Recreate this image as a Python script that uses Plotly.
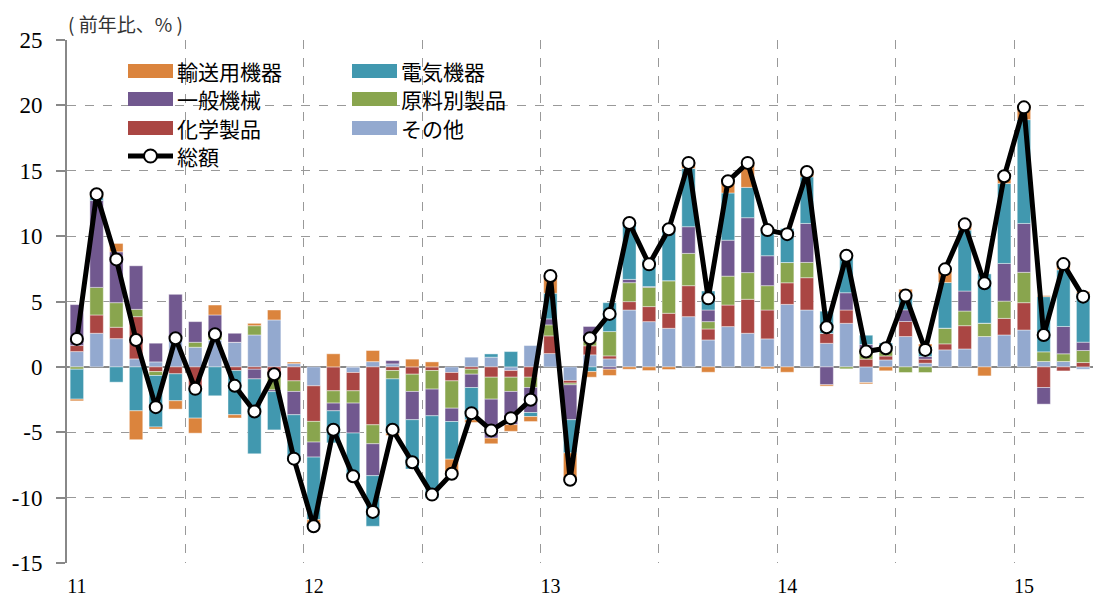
import plotly.graph_objects as go

# ---- data (前年比, %) Jan 2011 .. Apr 2015 ----
months = [f"{y}-{m:02d}" for y in range(2011, 2016) for m in range(1, 13)][:52]
year_ticks = [0, 12, 24, 36, 48]
year_labels = ["11", "12", "13", "14", "15"]

sonota = [1.17, 2.57, 2.16, 0.61, 0.38, 2.19, 1.50, 2.06, 1.88, 2.44, 3.59, 0.25,
          -1.45, 0.00, -0.43, 0.40, 0.23, 0.00, 0.00, -0.43, 0.74, 0.74, -0.28, 1.63,
          1.02, -1.04, 0.92, 0.61, 4.35, 3.46, 2.95, 3.84, 2.06, 3.08, 2.57, 2.14,
          4.78, 4.35, 1.80, 3.33, -1.20, 0.53, 2.32, 0.28, 1.30, 1.37, 2.32, 2.44,
          2.82, 0.41, 0.41, -0.18]
kagaku = [0.46, 1.40, 0.87, 3.23, -0.36, -0.53, -1.63, 0.00, -0.28, -0.18, -0.61, -1.07,
          -2.72, -1.83, -1.40, -4.43, -0.28, -0.56, -0.28, -0.64, -0.18, -0.79, -0.51, -0.79,
          1.35, -0.20, 0.69, 0.23, 0.64, 1.15, 1.15, 2.37, 0.84, 1.65, 2.60, 2.21,
          1.65, 2.47, 0.76, 1.02, 0.59, 0.30, 1.15, 0.31, 0.46, 1.78, 0.00, 1.27,
          2.09, -1.58, -0.31, 0.33]
genryo = [-0.18, 2.11, 1.88, 0.56, -0.30, 0.00, 0.38, 0.38, 0.00, 0.71, -1.15, -0.81,
          -1.58, -0.94, -0.94, -1.45, -0.64, -1.32, -1.42, -2.09, -0.38, -1.68, -1.09, -0.79,
          0.84, -0.13, 0.33, 1.86, 1.45, 1.48, 2.49, 2.47, 0.56, 2.21, 2.04, 1.86,
          1.55, 1.17, 0.00, -0.15, 0.76, 0.40, -0.43, -0.43, 1.20, 1.12, 1.02, 1.32,
          2.32, 0.74, 0.59, 0.92]
ippan = [3.13, 6.64, 3.89, 3.33, 1.43, 3.36, 1.58, 1.53, 0.69, -0.74, -0.13, -1.78,
         -1.15, -0.59, -2.29, -2.44, 0.25, -2.16, -2.04, -1.02, -1.02, -2.98, -2.54, -1.91,
         0.46, -2.67, 1.15, -0.18, 0.25, 0.05, 0.00, 2.04, 0.89, 2.75, 4.20, 2.29,
         0.00, 2.98, -1.37, 1.32, 0.36, 0.10, 0.89, 0.20, 0.00, 1.53, 0.00, 2.88,
         3.74, -1.27, 2.09, 0.64]
denki = [-2.29, 0.25, -1.17, -3.36, -3.94, -2.06, -2.29, -2.21, -3.38, -5.73, -2.93, -3.56,
         -4.78, -2.45, -3.31, -3.87, -4.15, -3.77, -6.30, -2.88, -2.47, 0.25, 1.17, -0.31,
         1.96, -2.54, -0.36, 2.21, 4.40, 2.09, 3.87, 4.45, 1.45, 3.61, 2.32, 1.96,
         2.60, 3.56, 1.70, 2.80, 0.71, 0.50, 1.27, 0.76, 3.49, 4.66, 3.77, 6.11,
         7.94, 4.22, 4.33, 3.74]
yuso = [-0.13, 0.20, 0.64, -2.21, -0.15, -0.64, -1.15, 0.76, -0.25, 0.18, 0.76, 0.12,
        -0.38, 1.00, 0.00, 0.85, -0.18, 0.59, 0.38, -1.12, -0.20, -0.43, -0.51, -0.38,
        1.27, -2.00, -0.43, -0.48, -0.18, -0.28, -0.20, 0.51, -0.41, 0.97, 1.88, -0.15,
        -0.41, 0.51, -0.10, 0.20, -0.10, -0.30, 0.31, 0.20, 0.90, 0.51, -0.69, 0.38,
        1.09, 0.08, 0.69, 0.13]
sogaku = [2.14, 13.2, 8.22, 2.06, -3.08, 2.19, -1.68, 2.49, -1.45, -3.41, -0.56, -7.02,
          -12.19, -4.81, -8.37, -11.09, -4.81, -7.30, -9.77, -8.17, -3.54, -4.86, -3.92, -2.52,
          6.95, -8.63, 2.19, 4.05, 11.0, 7.84, 10.53, 15.6, 5.24, 14.2, 15.6, 10.46,
          10.15, 14.91, 3.03, 8.5, 1.17, 1.42, 5.45, 1.3, 7.46, 10.9, 6.39, 14.58,
          19.85, 2.44, 7.86, 5.37]

series = [  # stacking order from zero outward
    ("その他", sonota, "#93A9CF"),
    ("化学製品", kagaku, "#AA4643"),
    ("原料別製品", genryo, "#89A54E"),
    ("一般機械", ippan, "#71588F"),
    ("電気機器", denki, "#4198AF"),
    ("輸送用機器", yuso, "#DB843D"),
]

x = list(range(len(months)))

fig = go.Figure()
for name, vals, col in series:
    fig.add_trace(go.Bar(x=x, y=vals, name=name, marker_color=col,
                         marker_line=dict(width=0.6, color="rgba(255,255,255,0.7)"),
                         showlegend=False))
fig.add_trace(go.Scatter(x=x, y=sogaku, name="総額", mode="lines+markers",
                         line=dict(color="black", width=5),
                         marker=dict(size=12, color="white", line=dict(color="black", width=2)),
                         showlegend=False))

# page has an 8px body margin, so figure coords = screen coords - 8
OFF = 8
FW, FH = 1103 - 2 * OFF, 605 - 2 * OFF
L, R, T, B = 67 - OFF, 1093 - OFF, 40 - OFF, 563 - OFF
W, H = R - L, B - T
def px(p):  # screen x -> paper
    return (p - OFF - L) / W
def py(p):  # screen y -> paper
    return (B - (p - OFF)) / H

jp = "Noto Sans CJK JP"
shapes = []
annotations = []
legend_items = [
    ("輸送用機器", "#DB843D", 128, 71), ("電気機器", "#4198AF", 352, 71),
    ("一般機械", "#71588F", 128, 99), ("原料別製品", "#89A54E", 352, 99),
    ("化学製品", "#AA4643", 128, 128), ("その他", "#93A9CF", 352, 128),
]
for name, col, x0, yc in legend_items:
    shapes.append(dict(type="rect", xref="paper", yref="paper",
                       x0=px(x0), x1=px(x0 + 45), y0=py(yc + 7), y1=py(yc - 7),
                       fillcolor=col, line=dict(width=0)))
    annotations.append(dict(text=name, xref="paper", yref="paper", x=px(x0 + 47), y=py(yc),
                            xanchor="left", yanchor="middle", showarrow=False,
                            font=dict(family=jp, size=21, color="black")))
# 総額 legend symbol
shapes.append(dict(type="line", xref="paper", yref="paper", x0=px(128), x1=px(173),
                   y0=py(156), y1=py(156), line=dict(color="black", width=5)))
shapes.append(dict(type="circle", xref="paper", yref="paper", x0=px(144), x1=px(157),
                   y0=py(162.5), y1=py(149.5), fillcolor="white",
                   line=dict(color="black", width=2)))
annotations.append(dict(text="総額", xref="paper", yref="paper", x=px(175), y=py(156),
                        xanchor="left", yanchor="middle", showarrow=False,
                        font=dict(family=jp, size=21, color="black")))
annotations.append(dict(text="( 前年比、% )", xref="paper", yref="paper", x=px(66), y=py(8),
                        xanchor="left", yanchor="top", showarrow=False,
                        font=dict(family=jp, size=19, color="#333")))

yticks = list(range(-15, 30, 5))
fig.update_layout(
    width=FW, height=FH,
    margin=dict(l=L, r=FW - R, t=T, b=FH - B, pad=0),
    barmode="relative", bargap=0.32,
    plot_bgcolor="white", paper_bgcolor="white",
    shapes=shapes, annotations=annotations,
    showlegend=False,
    xaxis=dict(range=[-0.5, 51.5], tickvals=year_ticks, ticktext=year_labels,
               showgrid=False, zeroline=False, ticks="", showline=False, automargin=False,
               tickfont=dict(family="Liberation Serif", size=20, color="black"),
               ticklabelstandoff=9,
               minor=dict(tickvals=[5.5 + 6 * k for k in range(8)], showgrid=True,
                          gridcolor="#999", griddash="dash", gridwidth=1, ticks="")),
    yaxis=dict(range=[-15, 25], tickvals=yticks, ticktext=[str(v) for v in yticks],
               showgrid=True, gridcolor="#999", griddash="dash", gridwidth=1,
               zeroline=True, zerolinecolor="#888", zerolinewidth=2,
               showline=True, linecolor="#888", linewidth=2, automargin=False,
               ticks="outside", ticklen=9, tickcolor="#888", tickwidth=1.5,
               ticklabelstandoff=9,
               tickfont=dict(family="Liberation Serif", size=23, color="black")),
)

fig.write_html("out.html")
